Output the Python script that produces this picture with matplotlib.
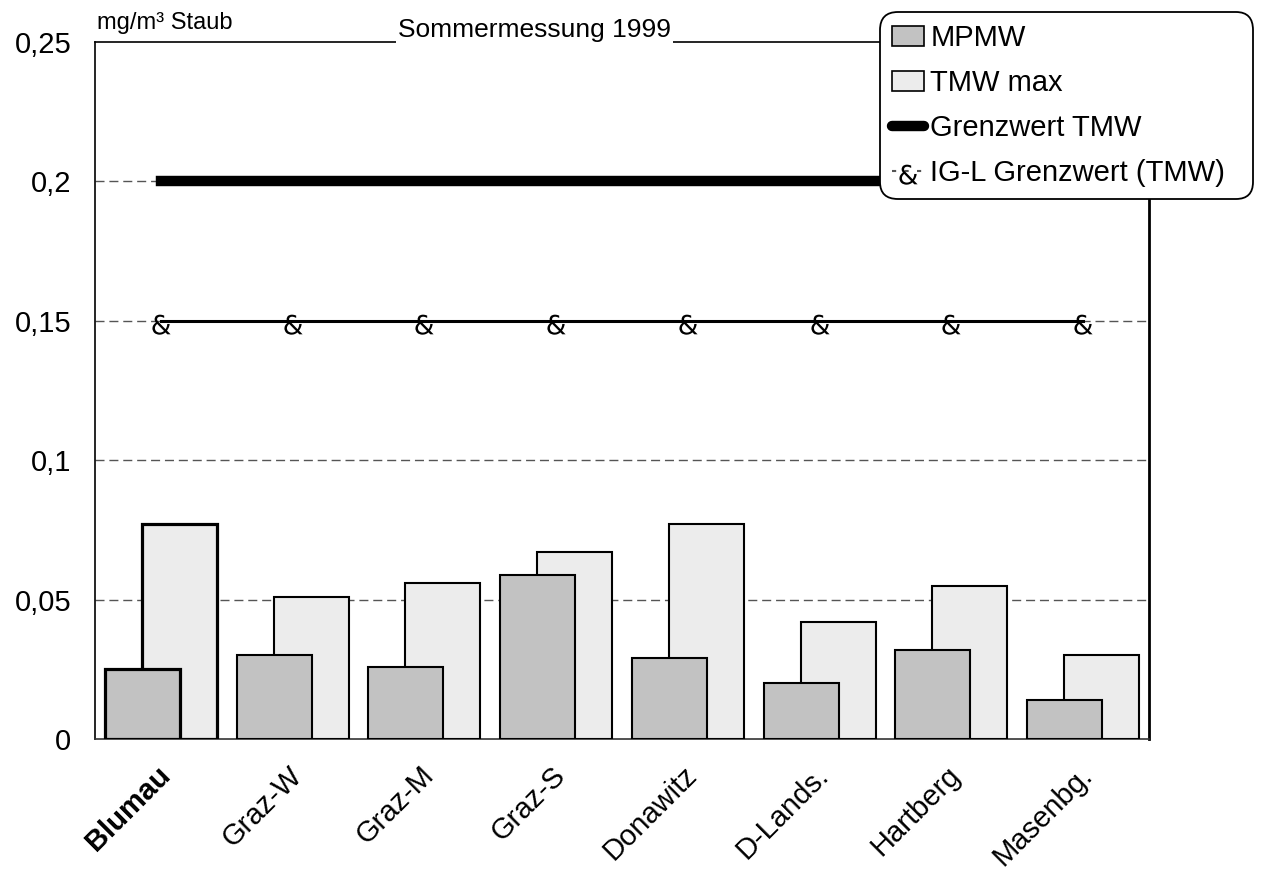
import matplotlib
matplotlib.use("Agg")
import matplotlib.pyplot as plt
import numpy as np
from matplotlib.lines import Line2D
from matplotlib.patches import Patch
from matplotlib.path import Path
from matplotlib.textpath import TextPath
from matplotlib.font_manager import FontProperties

plt.rcParams["font.family"] = ["Liberation Sans", "DejaVu Sans"]

# dust concentration, summer campaign 1999 (mg/m³)
stations = ["Blumau", "Graz-W", "Graz-M", "Graz-S", "Donawitz", "D-Lands.", "Hartberg", "Masenbg."]
mpmw = [0.025, 0.030, 0.026, 0.059, 0.029, 0.020, 0.032, 0.014]
tmw_max = [0.077, 0.051, 0.056, 0.067, 0.077, 0.042, 0.055, 0.030]
grenzwert_tmw = [0.2] * 8
igl_grenzwert = [0.15] * 8

y_ticks = [0, 0.05, 0.1, 0.15, 0.2, 0.25]
y_labels = ["0", "0,05", "0,1", "0,15", "0,2", "0,25"]


def glyph_marker(ch, dy=0.0):
    # ampersand glyph as a marker path, centred on the data point
    tp = TextPath((0, 0), ch, size=1, prop=FontProperties(family="DejaVu Sans"))
    verts = tp.vertices.copy()
    ext = tp.get_extents()
    verts[:, 0] -= (ext.x0 + ext.x1) / 2
    verts[:, 1] -= (ext.y0 + ext.y1) / 2 + dy
    return Path(verts, tp.codes)


amp = glyph_marker("&", dy=0.12)

fig = plt.figure(figsize=(12.63, 8.75), dpi=100)
ax = fig.add_axes([95 / 1263, 1 - 739 / 875, 1054 / 1263, 697 / 875])

x = np.arange(len(stations))
width = 0.57
off = 0.14
edge_w = [2.3 if s == "Blumau" else 1.5 for s in stations]

ax.bar(x + off, tmw_max, width, color="#ececec", edgecolor="black",
       linewidth=edge_w, zorder=3)
ax.bar(x - off, mpmw, width, color="#c2c2c2", edgecolor="black",
       linewidth=edge_w, zorder=4)

ax.plot(x, grenzwert_tmw, color="black", linewidth=7.5, zorder=5)
ax.plot(x, igl_grenzwert, color="black", linewidth=2.2, marker=amp,
        markersize=19, markeredgewidth=0, markerfacecolor="black", zorder=5)

ax.set_xlim(-0.5, len(stations) - 0.5)
ax.set_ylim(0, 0.25)
ax.set_yticks(y_ticks)
ax.set_yticklabels(y_labels, fontsize=21)
ax.tick_params(axis="y", length=0, pad=17)

for yv in y_ticks[1:-1]:
    ax.axhline(yv, color="#555555", linewidth=1.0, dashes=(6.5, 3.5), zorder=1)

# station names, rotated, hanging from each group centre
ax.set_xticks(x)
ax.set_xticklabels([])
ax.tick_params(axis="x", length=0)
for xi, name in zip(x, stations):
    ax.annotate(name, (xi, 0), xycoords=("data", "axes fraction"),
                xytext=(-3.5, -16), textcoords="offset points",
                rotation=45, ha="right", va="top", rotation_mode="anchor",
                fontsize=21,
                fontweight="bold" if name == "Blumau" else "normal")

for side in ["left", "top"]:
    ax.spines[side].set_linewidth(1.2)
ax.spines["right"].set_linewidth(2.0)
ax.spines["bottom"].set_linewidth(1.2)
ax.spines["bottom"].set_color("#333333")

ax.text(0.002, 1.012, "mg/m³ Staub", transform=ax.transAxes, fontsize=17,
        ha="left", va="bottom")
ax.text(0.2875, 1.0, "Sommermessung 1999", transform=ax.transAxes, fontsize=19,
        ha="left", va="bottom",
        bbox=dict(facecolor="white", edgecolor="none", pad=1.5), zorder=6)

handles = [
    Patch(facecolor="#c2c2c2", edgecolor="black", linewidth=1.2),
    Patch(facecolor="#ececec", edgecolor="black", linewidth=1.2),
    Line2D([], [], color="black", linewidth=7.5, solid_capstyle="round"),
    Line2D([], [], color="#555555", linewidth=1.5, dashes=(2, 4),
           marker=amp, markersize=19, markeredgewidth=0,
           markerfacecolor="black"),
]
labels = ["MPMW", "TMW max", "Grenzwert TMW", "IG-L Grenzwert (TMW)"]
leg = fig.legend(handles, labels, loc="upper left", mode="expand",
                 bbox_to_anchor=(880 / 1263, 1 - 192 / 875, 373 / 1263, 180 / 875),
                 fontsize=21, frameon=True, fancybox=True, borderpad=0.42,
                 labelspacing=0.58, handlelength=1.1, handletextpad=0.2,
                 borderaxespad=0)
frame = leg.get_frame()
frame.set_edgecolor("black")
frame.set_linewidth(1.3)
frame.set_alpha(1)
frame.set_boxstyle("round,pad=0,rounding_size=0.6")

fig.savefig("out.png", dpi=100)
